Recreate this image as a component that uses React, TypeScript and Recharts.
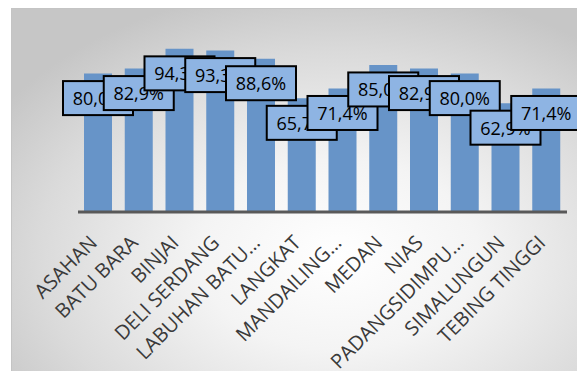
import React from "react";
import { BarChart, Bar, XAxis, YAxis, LabelList } from "recharts";

const regions = [
  "ASAHAN",
  "BATU BARA",
  "BINJAI",
  "DELI SERDANG",
  "LABUHAN BATU…",
  "LANGKAT",
  "MANDAILING…",
  "MEDAN",
  "NIAS",
  "PADANGSIDIMPU…",
  "SIMALUNGUN",
  "TEBING TINGGI",
];
const percent = [80.0, 82.9, 94.3, 93.3, 88.6, 65.7, 71.4, 85.0, 82.9, 80.0, 62.9, 71.4];

const data = regions.map((name, i) => ({ name, value: percent[i] }));

const FONT = "'Open Sans', sans-serif";

// callout box drawn a bit below the top of each bar, later ones overlap earlier ones
const renderBox = (props: any) => {
  const { x, y, width, value } = props;
  const cx = x + width / 2;
  const cy = y + 24.5;
  return (
    <g>
      <rect
        x={cx - 35}
        y={cy - 17}
        width={70}
        height={34}
        fill="#8eb4e3"
        stroke="#000"
        strokeWidth={2}
      />
      <text
        x={cx}
        y={cy}
        textAnchor="middle"
        dominantBaseline="central"
        fontFamily={FONT}
        fontSize={18}
        fill="#000"
      >
        {value.toFixed(1).replace(".", ",")}%
      </text>
    </g>
  );
};

// rotated category label, text ends just under the bar centre
const renderTick = (props: any) => {
  const { x, y, payload } = props;
  return (
    <g transform={`translate(${x},${y + 24})`}>
      <text
        textAnchor="end"
        transform="rotate(-45)"
        fontFamily={FONT}
        fontSize={20}
        fill="#3a3a3a"
      >
        {payload.value}
      </text>
    </g>
  );
};

export default function App() {
  return (
    <div style={{ position: "relative", width: 585, height: 378, margin: "-8px 0 0 -8px", background: "#fff" }}>
      <div
        style={{
          position: "absolute",
          left: 11,
          top: 8,
          width: 572,
          height: 362,
          borderTop: "1px solid #c4c4c4",
          borderLeft: "1px solid #c4c4c4",
          background:
            "radial-gradient(ellipse 70% 75% at 57% 68%, #ffffff 0%, #f4f4f4 35%, #dadada 75%, #c6c6c6 100%)",
        }}
      />
      <div style={{ position: "absolute", left: 0, top: 0 }}>
        <BarChart
          width={585}
          height={378}
          data={data}
          margin={{ top: 39, right: 18, left: 78, bottom: 0 }}
          barSize={28}
        >
          <YAxis hide domain={[0, 100]} />
          <XAxis
            dataKey="name"
            height={166}
            interval={0}
            tickLine={false}
            axisLine={{ stroke: "#595959", strokeWidth: 3 }}
            tick={renderTick}
          />
          <Bar dataKey="value" fill="#6794c8" isAnimationActive={false}>
            <LabelList dataKey="value" content={renderBox} />
          </Bar>
        </BarChart>
      </div>
    </div>
  );
}
